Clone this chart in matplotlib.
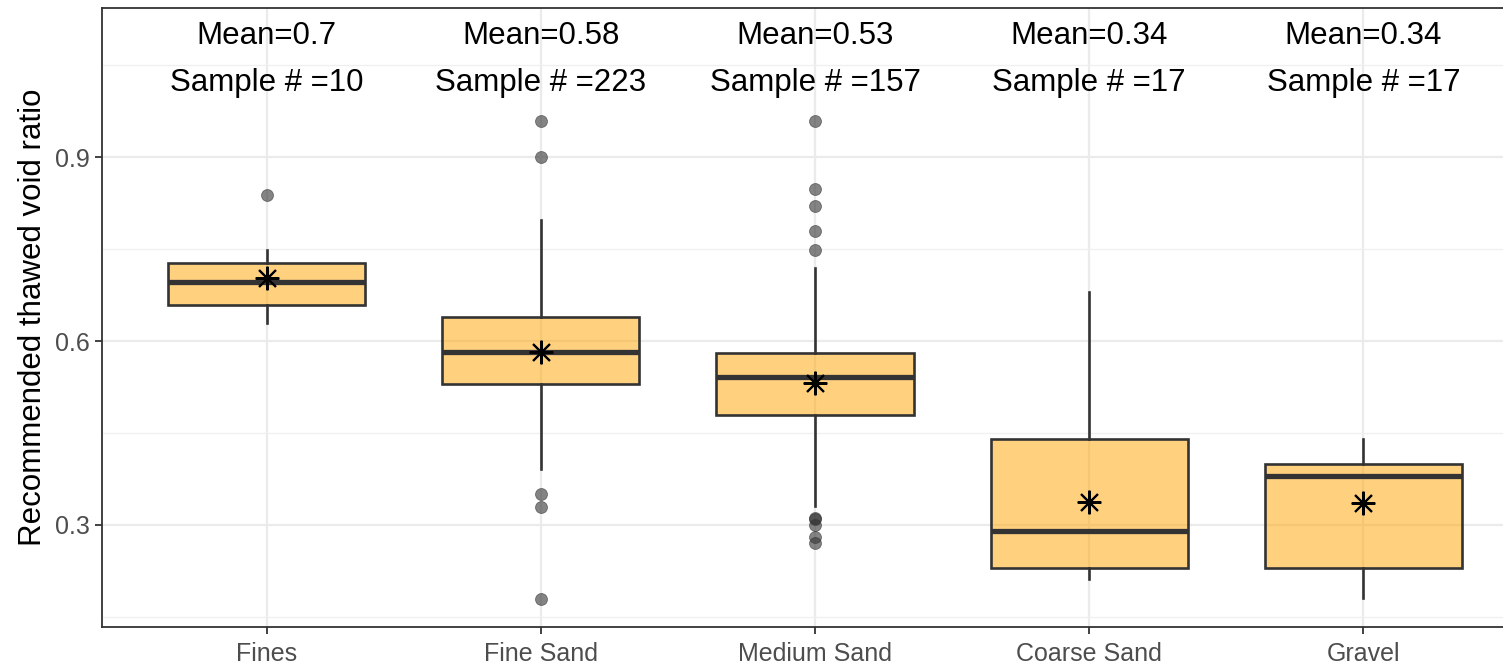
import matplotlib
matplotlib.use("Agg")
import matplotlib.pyplot as plt
from matplotlib.ticker import FixedLocator

plt.rcParams["font.family"] = ["Liberation Sans", "DejaVu Sans"]

# Summary statistics per soil class
categories = ["Fines", "Fine Sand", "Medium Sand", "Coarse Sand", "Gravel"]
sample_counts = [10, 223, 157, 17, 17]
q1 = [0.659, 0.530, 0.479, 0.230, 0.230]
medians = [0.696, 0.582, 0.541, 0.290, 0.380]
q3 = [0.728, 0.640, 0.580, 0.440, 0.400]
whisker_low = [0.630, 0.391, 0.331, 0.212, 0.181]
whisker_high = [0.748, 0.798, 0.720, 0.680, 0.440]
means = [0.703, 0.583, 0.532, 0.338, 0.336]
outliers = [
    [0.839],
    [0.960, 0.900, 0.350, 0.329, 0.180],
    [0.960, 0.849, 0.820, 0.780, 0.749, 0.312, 0.310, 0.300, 0.280, 0.270],
    [],
    [],
]
y_major = [0.3, 0.6, 0.9]
y_minor = [0.15, 0.45, 0.75, 1.05]

W, H = 1503, 664
fig = plt.figure(figsize=(W / 100, H / 100), dpi=100)
left_px, right_px, top_px, bottom_px = 102, 1528, 8, 627
ax = fig.add_axes([left_px / W, 1 - bottom_px / H,
                   (right_px - left_px) / W, (bottom_px - top_px) / H])

positions = list(range(1, len(categories) + 1))
stats = []
for i, name in enumerate(categories):
    stats.append(dict(label=name, med=medians[i], q1=q1[i], q3=q3[i],
                      whislo=whisker_low[i], whishi=whisker_high[i],
                      mean=means[i], fliers=outliers[i]))

edge = "#333333"
ax.bxp(stats, positions=positions, widths=0.72, patch_artist=True,
       showmeans=True, showcaps=False, showfliers=True,
       boxprops=dict(facecolor=(1.0, 0.647, 0.0, 0.5), edgecolor=edge, linewidth=1.9),
       medianprops=dict(color=edge, linewidth=3.8),
       whiskerprops=dict(color=edge, linewidth=1.9),
       flierprops=dict(marker="o", markerfacecolor=edge, markeredgecolor=edge,
                       alpha=0.6, markersize=8.6, markeredgewidth=0.6),
       meanprops=dict(marker=(8, 2, 0), markersize=17, markeredgecolor="black",
                      markerfacecolor="black", markeredgewidth=1.5),
       zorder=3)

# Annotations above each box
for p, m, n in zip(positions, means, sample_counts):
    ax.text(p, 1.098, f"Mean={round(m, 2)}", ha="center", va="center",
            fontsize=22.5, color="black", zorder=4)
    ax.text(p, 1.022, f"Sample # ={n}", ha="center", va="center",
            fontsize=22.5, color="black", zorder=4)

ax.set_xlim(0.4, 5.6)
ax.set_ylim(0.1335, 1.1436)
ax.set_xticks(positions)
ax.set_xticklabels(categories)
ax.set_yticks(y_major)
ax.set_yticklabels([f"{v:.1f}" for v in y_major])
ax.yaxis.set_minor_locator(FixedLocator(y_minor))

ax.set_axisbelow(True)
ax.grid(True, which="major", color="#EBEBEB", linewidth=1.6)
ax.grid(True, which="minor", axis="y", color="#F0F0F0", linewidth=1.0)

ax.tick_params(axis="both", which="major", colors=edge, length=5, width=1.3,
               labelsize=18, labelcolor="#4D4D4D", pad=4)
ax.tick_params(axis="x", which="major", pad=6)
ax.tick_params(axis="y", which="minor", length=0)
for s in ax.spines.values():
    s.set_color(edge)
    s.set_linewidth(1.3)

ax.set_ylabel("Recommended thawed void ratio", fontsize=22.5, color="black")
ax.yaxis.set_label_coords(-0.038, 0.5)

fig.savefig("out.png", dpi=100)
